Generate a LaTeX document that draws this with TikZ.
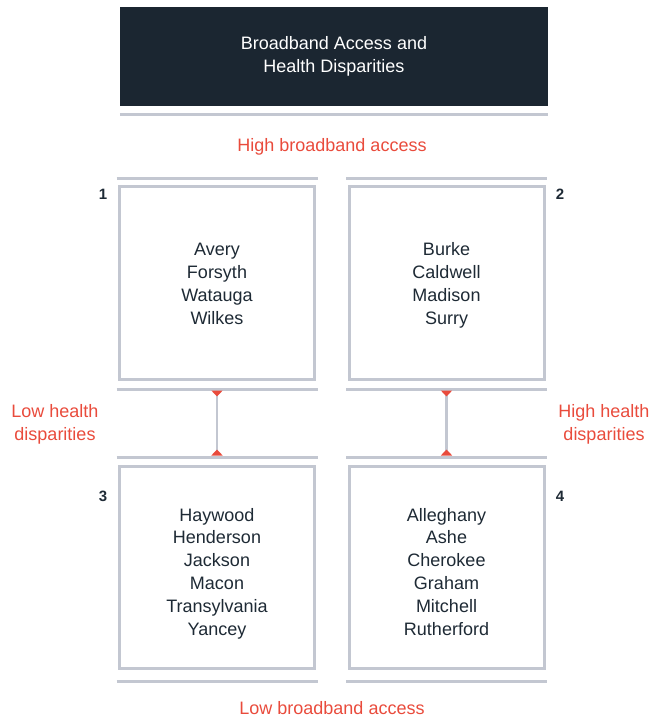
\documentclass[tikz,border=0pt]{standalone}
\usepackage{fontspec}
\setmainfont{Liberation Sans}
\usetikzlibrary{arrows.meta}

\definecolor{titlebg}{HTML}{1B2631}
\definecolor{rulegray}{HTML}{C3C7D1}
\definecolor{accent}{HTML}{E94B3C}
\definecolor{ink}{HTML}{1E2A35}

\begin{document}
\begin{tikzpicture}[
x=1pt,y=-1pt,
font=\fontsize{18}{22.8}\selectfont,
title/.style={rectangle,fill=titlebg,text=white,align=center,minimum width=428pt,minimum height=99pt,inner sep=0pt},
county/.style={rectangle,draw=rulegray,line width=3pt,fill=white,align=center,text=ink,minimum width=195pt,inner sep=0pt},
rule/.style={draw=rulegray,line width=3pt},
label/.style={text=accent,align=center,inner sep=0pt},
number/.style={text=ink,font=\fontsize{15}{17}\selectfont\bfseries,inner sep=0pt},
link/.style={draw=rulegray,line width=2.5pt,{Triangle[reversed,width=11pt,length=6pt,color=accent]}-{Triangle[reversed,width=11pt,length=6pt,color=accent]}},
]

\useasboundingbox (0,0) rectangle (656,719);

% Title
\node[title] (head) at (334,56.5) {Broadband Access and\\Health Disparities};
\draw[rule] ([yshift=-8pt]head.south west) -- ([yshift=-8pt]head.south east);

\node[label] (high) at (332,146.5) {High broadband access};
\node[label] (low) at (332,708) {Low broadband access};

% Quadrants
\node[county,minimum height=193pt] (q1) at (217,283) {\rule{0pt}{21pt}Avery\\Forsyth\\Watauga\\Wilkes\strut};
\node[county,minimum height=193pt] (q2) at (446.5,283) {\rule{0pt}{21pt}Burke\\Caldwell\\Madison\\Surry\strut};
\node[county,minimum height=202pt] (q3) at (217,567.5) {\rule{0pt}{28pt}Haywood\\Henderson\\Jackson\\Macon\\Transylvania\\Yancey\strut};
\node[county,minimum height=202pt] (q4) at (446.5,567.5) {\rule{0pt}{28pt}Alleghany\\Ashe\\Cherokee\\Graham\\Mitchell\\Rutherford\strut};

% Rules above and below each quadrant
\foreach \q/\a/\b in {q1/6/8,q2/6/8,q3/8/11,q4/8/11}{
  \coordinate (\q n) at ([yshift=\a pt]\q.north);
  \coordinate (\q s) at ([yshift=-\b pt]\q.south);
  \draw[rule] ([xshift=-1.5pt,yshift=\a pt]\q.north west) -- ([xshift=1.5pt,yshift=\a pt]\q.north east);
  \draw[rule] ([xshift=-1.5pt,yshift=-\b pt]\q.south west) -- ([xshift=1.5pt,yshift=-\b pt]\q.south east);
}

% Numbers
\node[number] (n1) at (103,194) {1};
\node[number] (n2) at (560,194) {2};
\node[number] (n3) at (103,496) {3};
\node[number] (n4) at (560,496) {4};

% Health disparity axis
\node[label] (lowhd) at (55,424.5) {Low health\\disparities};
\node[label] (highhd) at (604,424.5) {High health\\disparities};

\draw[link] ([yshift=-1.5pt]q1s) -- ([yshift=1.5pt]q3n);
\draw[link] ([yshift=-1.5pt]q2s) -- ([yshift=1.5pt]q4n);
\end{tikzpicture}
\end{document}
